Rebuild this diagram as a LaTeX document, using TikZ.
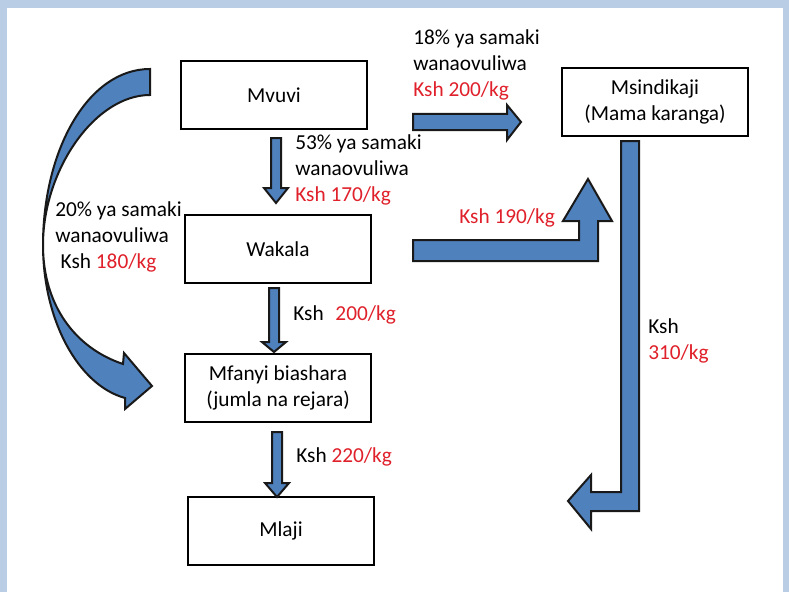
\documentclass[tikz,border=0pt]{standalone}
\usepackage{fontspec}
\setmainfont{Carlito}
\usetikzlibrary{positioning}
\definecolor{Frame}{HTML}{B9CDE5}
\definecolor{ArrowFill}{HTML}{4F81BD}
\definecolor{Price}{HTML}{E0202A}
\newcommand\Ksh[1]{\textcolor{Price}{#1}}
% straight block arrow pointing down: centre x, shaft top, head base, tip
\newcommand\DownArrow[4]{%
  \path[blockarrow] (#1-5,#2) -- (#1+5,#2) -- (#1+5,#3) -- (#1+12,#3)
    -- (#1,#4) -- (#1-12,#3) -- (#1-5,#3) -- cycle;
}

\begin{document}
\begin{tikzpicture}[x=0.75pt, y=-0.75pt,
                    font=\fontsize{16}{19.5}\selectfont,
                    box/.style = { draw=black, line width=1.5pt, minimum width=186*0.75pt,
                                   minimum height=68*0.75pt, align=center, inner sep=0pt },
                    blockarrow/.style = { fill=ArrowFill, draw=black!90, line width=1.5pt },
                    price/.style = { anchor=west, align=left, inner sep=0pt }]

  % frame
  \fill[Frame] (0,0) rectangle (789,592);
  \fill[white] (7,8) rectangle (783,592);

  \node[box] (mvuvi)      at (274,95)  {Mvuvi};
  \node[box] (wakala)     at (278,249) {Wakala};
  \node[box] (mfanyi)     at (278,388) {Mfanyi biashara\\(jumla na rejara)};
  \node[box] (mlaji)      at (281,531) {Mlaji};
  \node[box] (msindikaji) at (655,102) {Msindikaji\\(Mama karanga)};

  % straight arrows
  \DownArrow{276}{138}{188}{203}
  \DownArrow{274}{288}{342}{352}
  \DownArrow{277}{432}{483}{497}
  \path[blockarrow] (413,114) -- (507,114) -- (507,105) -- (521,122)
    -- (507,140) -- (507,130) -- (413,130) -- cycle;

  % bent arrows
  \path[blockarrow] (413,240) -- (579,240) -- (579,221) -- (563,221) -- (588,179)
    -- (612,221) -- (598,221) -- (598,261) -- (413,261) -- cycle;
  \path[blockarrow] (621,141) -- (639,141) -- (639,511) -- (591,511) -- (591,529)
    -- (568,501) -- (591,475) -- (591,492) -- (621,492) -- cycle;

  % curved arrow
  \path[blockarrow] (150,69) .. controls (88,69) and (43,150) .. (43,245)
    .. controls (43,305) and (75,348) .. (123,364) -- (124,353) -- (152,386)
    -- (125,409) -- (125,398) .. controls (78,385) and (43,320) .. (43,245)
    .. controls (43,170) and (95,95) .. (150,95) -- cycle;

  % labels
  \node[price] (lbl18)  at (413,65)  {18\% ya samaki\\wanaovuliwa\\\Ksh{Ksh 200/kg}};
  \node[price] (lbl53)  at (295,170) {53\% ya samaki\\wanaovuliwa\\\Ksh{Ksh 170/kg}};
  \node[price] (lbl20)  at (55,237)  {20\% ya samaki\\wanaovuliwa\\\hspace*{4pt}Ksh \Ksh{180/kg}};
  \node[price] (lbl190) at (459,218) {\Ksh{Ksh 190/kg}};
  \node[price] (lbl200) at (293,315) {Ksh\hspace{0.55em}\Ksh{200/kg}};
  \node[price] (lbl220) at (296,457) {Ksh \Ksh{220/kg}};
  \node[price] (lbl310) at (648,341) {Ksh\\\Ksh{310/kg}};
\end{tikzpicture}
\end{document}
